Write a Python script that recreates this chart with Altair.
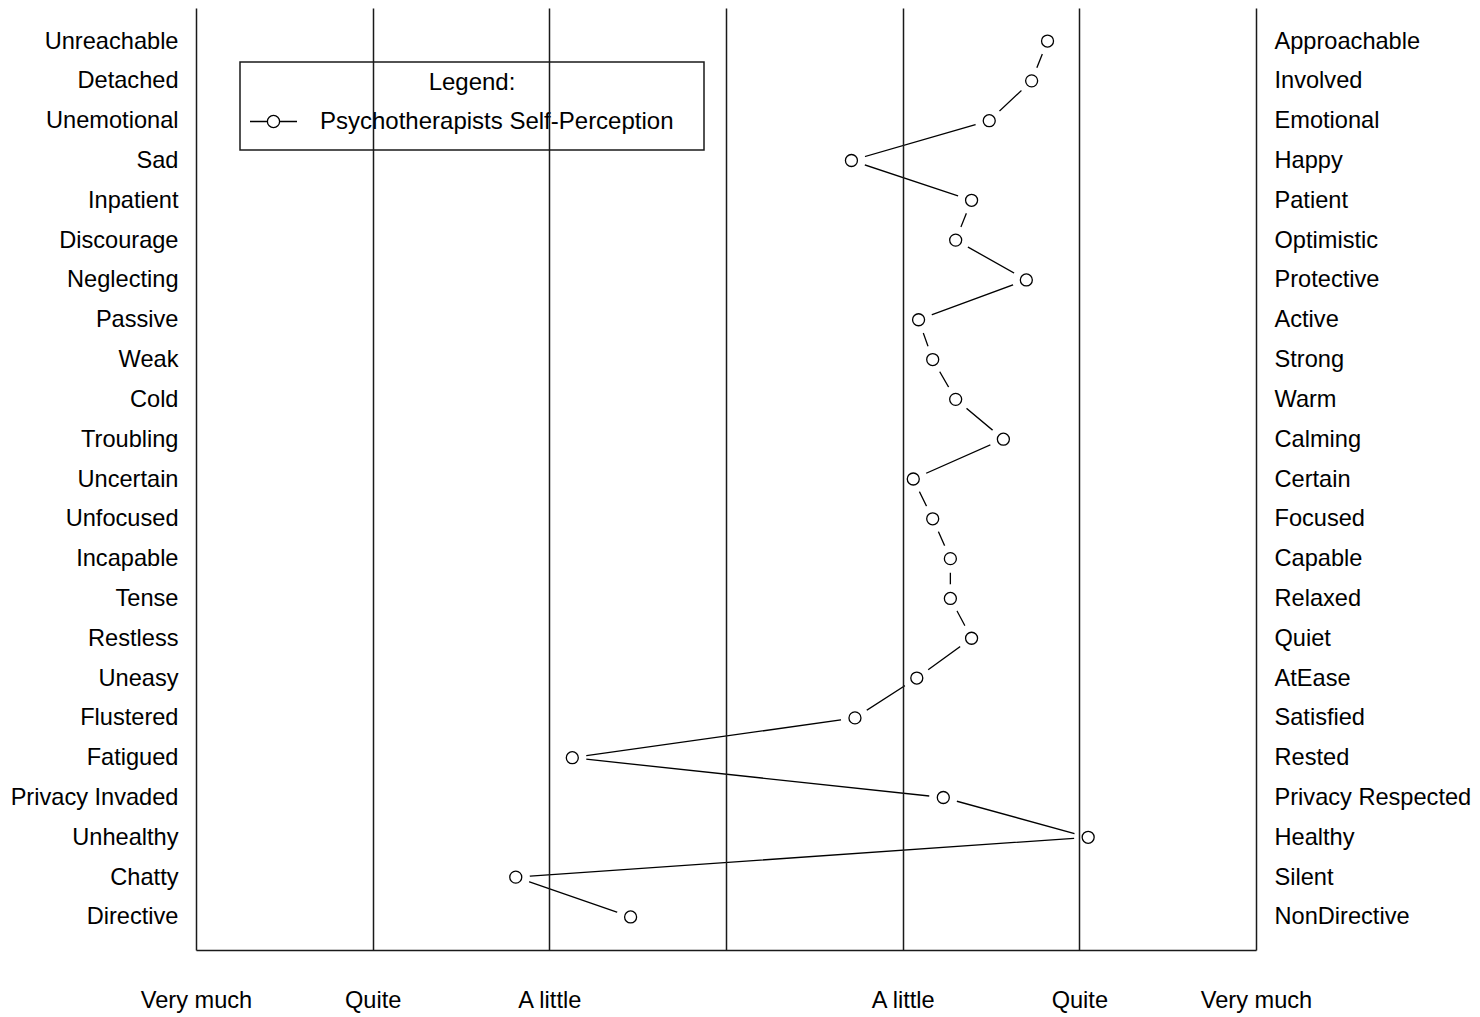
import json
import altair as alt
import pandas as pd

left_labels = ["Unreachable", "Detached", "Unemotional", "Sad", "Inpatient", "Discourage",
               "Neglecting", "Passive", "Weak", "Cold", "Troubling", "Uncertain", "Unfocused",
               "Incapable", "Tense", "Restless", "Uneasy", "Flustered", "Fatigued",
               "Privacy Invaded", "Unhealthy", "Chatty", "Directive"]
right_labels = ["Approachable", "Involved", "Emotional", "Happy", "Patient", "Optimistic",
                "Protective", "Active", "Strong", "Warm", "Calming", "Certain", "Focused",
                "Capable", "Relaxed", "Quiet", "AtEase", "Satisfied", "Rested",
                "Privacy Respected", "Healthy", "Silent", "NonDirective"]
scores = [5.82, 5.73, 5.49, 4.71, 5.39, 5.30, 5.70, 5.09, 5.17, 5.30, 5.57, 5.06, 5.17,
          5.27, 5.27, 5.39, 5.08, 4.73, 3.13, 5.23, 6.05, 2.81, 3.46]
scale_ticks = [1, 2, 3, 4, 5, 6, 7]
scale_labels = ["Very much", "Quite", "A little", "", "A little", "Quite", "Very much"]
series_name = "Psychotherapists Self-Perception"

df = pd.DataFrame({
    "idx": list(range(len(scores))),
    "left": left_labels,
    "right": right_labels,
    "value": scores,
    "series": [series_name] * len(scores),
})

FONT = "Liberation Sans"
FS = 23.6
INK = "#1a1a1a"

x_enc = alt.X(
    "value:Q",
    scale=alt.Scale(domain=[1, 7], nice=False, zero=False),
    axis=alt.Axis(
        values=scale_ticks,
        labelExpr=json.dumps(scale_labels) + "[datum.value - 1]",
        title=None, ticks=False, grid=True, gridColor=INK, gridWidth=1.5, gridOpacity=1,
        domain=True, domainColor=INK, domainWidth=1.5,
        labelPadding=38, labelFontSize=FS, labelFont=FONT, labelColor="black",
        labelFlush=False, labelOverlap=False, labelAngle=0, zindex=1,
    ),
)

y_left_axis = alt.Axis(title=None, ticks=False, domain=False, grid=False, labelPadding=18,
                       labelFontSize=FS, labelFont=FONT, labelColor="black", labelLimit=400)
y_right_axis = alt.Axis(title=None, ticks=False, domain=False, grid=False, labelPadding=18,
                        labelFontSize=FS, labelFont=FONT, labelColor="black", labelLimit=400,
                        orient="right")

yscale = alt.Scale(padding=0.83)

base = alt.Chart(df)

line = base.mark_line(color="black", strokeWidth=1.3).encode(
    x=x_enc,
    y=alt.Y("left:N", sort=left_labels, scale=yscale, axis=y_left_axis),
    order=alt.Order("idx:Q"),
)

halo = base.mark_point(filled=True, color="white", opacity=1, size=800).encode(
    x=x_enc,
    y=alt.Y("left:N", sort=left_labels, scale=yscale, axis=None),
)

# line-circle-line glyph; the trailing move-to only widens the legend box
legend_symbol = ("M-1,0L-0.26,0M0.26,0L1,0"
                 "M0.26,0A0.26,0.26 0 1,1 -0.26,0A0.26,0.26 0 1,1 0.26,0"
                 "M17.8,0.68")

circles = base.mark_point(filled=False, fill="white", size=144, strokeWidth=1.3,
                          opacity=1).encode(
    x=x_enc,
    y=alt.Y("left:N", sort=left_labels, scale=yscale, axis=None),
    color=alt.Color(
        "series:N",
        scale=alt.Scale(range=["black"]),
        legend=alt.Legend(
            title="Legend:", orient="none", legendX=44, legendY=54,
            titleAnchor="middle", titleAlign="center", titleFontSize=24,
            titleFontWeight="normal", titleFont=FONT, titleColor="black", titlePadding=2,
            labelFontSize=24, labelFont=FONT, labelColor="black", labelLimit=700,
            labelOffset=22,
            symbolType=legend_symbol, symbolSize=2209, symbolStrokeWidth=1.3,
            strokeColor=INK, padding=9,
        ),
    ),
)

right_layer = base.mark_point(opacity=0).encode(
    x=x_enc,
    y=alt.Y("right:N", sort=right_labels, scale=yscale, axis=y_right_axis),
)

chart = (
    alt.layer(line, halo, circles, right_layer)
    .resolve_scale(y="independent")
    .properties(
        width=1060, height=942,
        autosize=alt.AutoSizeParams(type="none"),
        padding={"left": 188, "top": 0, "right": 216, "bottom": 66},
    )
    .configure_view(strokeWidth=0)
    .configure_legend(strokeWidth=1.5)
)

chart.save("out.html", embed_options={"renderer": "svg", "actions": False})
